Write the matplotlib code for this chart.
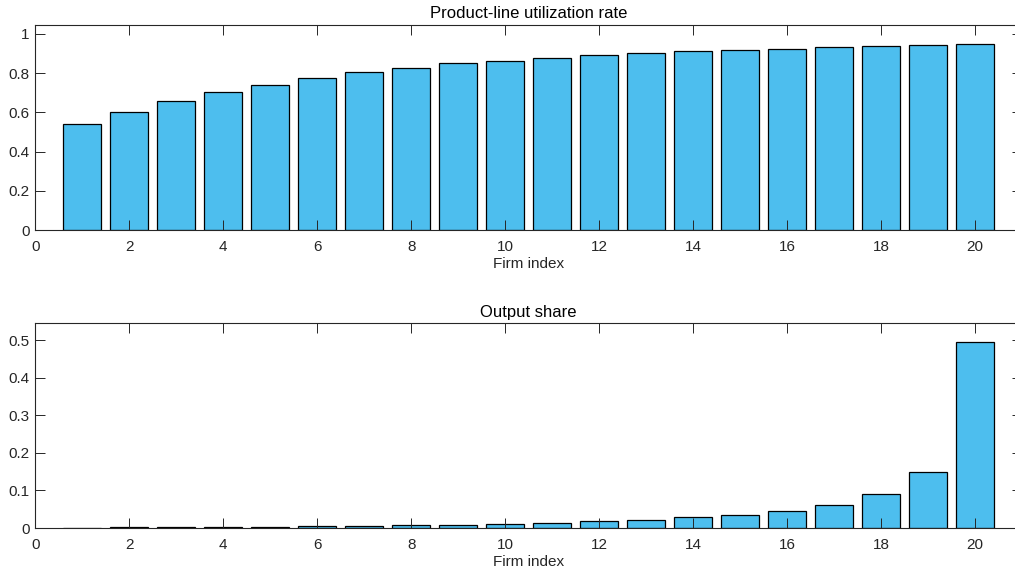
import numpy as np
import matplotlib.pyplot as plt

plt.rcParams['font.family'] = ['Liberation Sans', 'DejaVu Sans']

# Firm indices and the two series
firms = np.arange(1, 21)
utilization = [0.542, 0.604, 0.656, 0.702, 0.741, 0.774, 0.803, 0.828, 0.849, 0.864,
               0.879, 0.893, 0.903, 0.912, 0.920, 0.925, 0.932, 0.939, 0.944, 0.949]
output_share = [0.001, 0.0015, 0.0022, 0.003, 0.0037, 0.0048, 0.006, 0.0075, 0.009, 0.0115,
                0.014, 0.0177, 0.022, 0.028, 0.0346, 0.046, 0.062, 0.0896, 0.148, 0.494]
xticks = np.arange(0, 21, 2)

bar_color = '#4DBEEE'
axis_color = '#262626'

fig = plt.figure(figsize=(10.15, 5.77), dpi=100)

W, H = 1015, 577
left, right = 35.3, 1022
ax1 = fig.add_axes([left / W, 1 - 230 / H, (right - left) / W, 205 / H])
ax2 = fig.add_axes([left / W, 1 - 528 / H, (right - left) / W, 204.7 / H])

panels = [
    (ax1, utilization, 'Product-line utilization rate', 1.045, np.arange(0, 1.01, 0.2),
     ['0', '0.2', '0.4', '0.6', '0.8', '1']),
    (ax2, output_share, 'Output share', 0.5445, np.arange(0, 0.51, 0.1),
     ['0', '0.1', '0.2', '0.3', '0.4', '0.5']),
]

for ax, vals, title, ymax, yt, ytl in panels:
    ax.bar(firms, vals, width=0.8, color=bar_color, edgecolor='black', linewidth=0.9)
    ax.set_xlim(0, 21)
    ax.set_ylim(0, ymax)
    ax.set_xticks(xticks)
    ax.set_yticks(yt)
    ax.set_yticklabels(ytl)
    ax.set_title(title, fontsize=12, color='black', pad=4.8)
    ax.set_xlabel('Firm index', fontsize=11, color=axis_color, labelpad=2)
    ax.tick_params(direction='in', length=7.2, width=0.7, colors=axis_color,
                   labelsize=11, top=True, right=True, pad=4)
    ax.tick_params(axis='x', pad=7)
    for s in ax.spines.values():
        s.set_color(axis_color)
        s.set_linewidth(0.8)

fig.savefig('out.png', dpi=100)
